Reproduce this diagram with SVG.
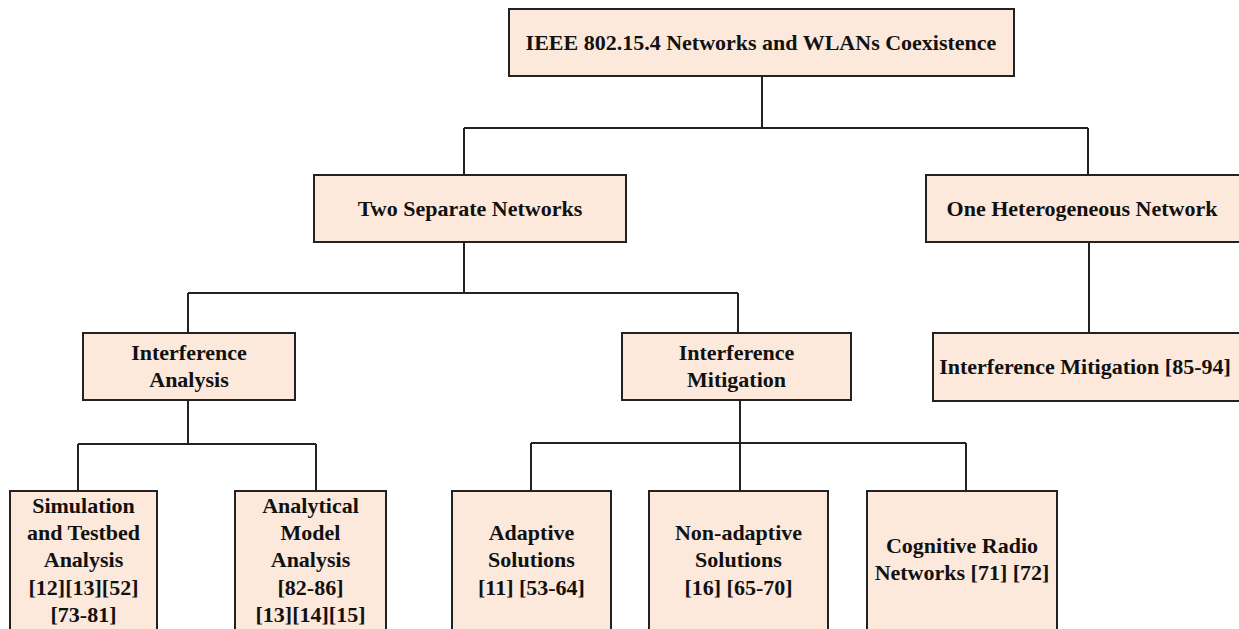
<svg xmlns="http://www.w3.org/2000/svg" width="1239" height="629" viewBox="0 0 1239 629">
<style>
.box{fill:#FCE9DC;stroke:#222;stroke-width:2}
.t{font-family:"Liberation Serif","Times New Roman",serif;font-weight:bold;font-size:22px;fill:#111;text-anchor:middle}
.c{fill:none;stroke:#222;stroke-width:2}
</style>
<rect width="1239" height="629" fill="#fff"/>
<g id="connectors">
<path class="c" d="M762 76V128M464 128H1088M464 128V175M1088 128V175"/>
<path class="c" d="M464 242V293M188 293H738M188 293V333M738 293V333"/>
<path class="c" d="M1089 242V333"/>
<path class="c" d="M188 400V444M78 444H316M78 444V491M316 444V491"/>
<path class="c" d="M740 400V443M531 443H966M531 443V491M740 443V491M966 443V491"/>
</g>
<g id="root"><rect class="box" x="509" y="9" width="505" height="67"/><text class="t" x="761" y="50">IEEE 802.15.4 Networks and WLANs Coexistence</text></g>
<g id="two-separate"><rect class="box" x="314" y="175" width="312" height="67"/><text class="t" x="470" y="216">Two Separate Networks</text></g>
<g id="one-heterogeneous"><rect class="box" x="926" y="175" width="324" height="67"/><text class="t" x="1082" y="216">One Heterogeneous Network</text></g>
<g id="interference-analysis"><rect class="box" x="83" y="333" width="212" height="67"/><text class="t" x="189" y="360">Interference</text><text class="t" x="189" y="387">Analysis</text></g>
<g id="interference-mitigation"><rect class="box" x="622" y="333" width="229" height="67"/><text class="t" x="736.5" y="360">Interference</text><text class="t" x="736.5" y="387">Mitigation</text></g>
<g id="interference-mitigation-het"><rect class="box" x="933" y="333" width="315" height="68"/><text class="t" x="1085" y="374">Interference Mitigation [85-94]</text></g>
<g id="simulation"><rect class="box" x="10" y="491" width="147" height="150"/><text class="t" x="83.5" y="513">Simulation</text><text class="t" x="83.5" y="540">and Testbed</text><text class="t" x="83.5" y="567">Analysis</text><text class="t" x="83.5" y="595">[12][13][52]</text><text class="t" x="83.5" y="622">[73-81]</text></g>
<g id="analytical"><rect class="box" x="235" y="491" width="151" height="150"/><text class="t" x="310.5" y="513">Analytical</text><text class="t" x="310.5" y="540">Model</text><text class="t" x="310.5" y="567">Analysis</text><text class="t" x="310.5" y="595">[82-86]</text><text class="t" x="310.5" y="622">[13][14][15]</text></g>
<g id="adaptive"><rect class="box" x="452" y="491" width="159" height="150"/><text class="t" x="531.5" y="540">Adaptive</text><text class="t" x="531.5" y="567">Solutions</text><text class="t" x="531.5" y="595">[11] [53-64]</text></g>
<g id="non-adaptive"><rect class="box" x="649" y="491" width="179" height="150"/><text class="t" x="738.5" y="540">Non-adaptive</text><text class="t" x="738.5" y="567">Solutions</text><text class="t" x="738.5" y="595">[16] [65-70]</text></g>
<g id="cognitive"><rect class="box" x="867" y="491" width="190" height="150"/><text class="t" x="962" y="553">Cognitive Radio</text><text class="t" x="962" y="580">Networks [71] [72]</text></g>
</svg>
